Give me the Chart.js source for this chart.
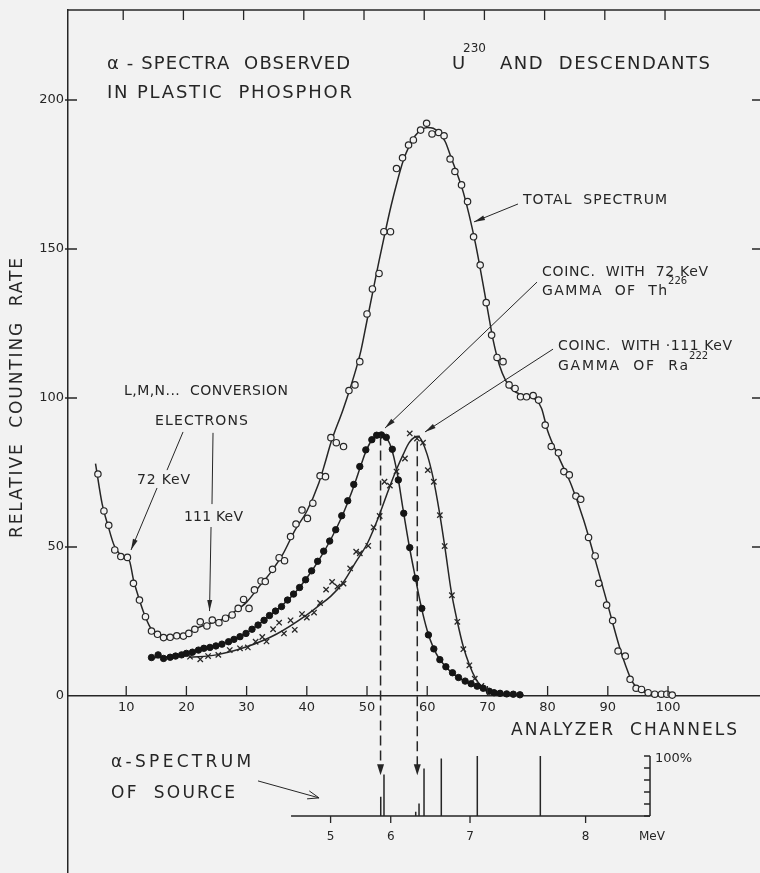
<!DOCTYPE html>
<html>
<head>
<meta charset="utf-8">
<script src="https://cdn.jsdelivr.net/npm/chart.js@4.4.0/dist/chart.umd.min.js"></script>
<style>
html, body { margin: 0; padding: 0; background: #f2f2f2; }
</style>
</head>
<body>
<canvas id="canvas" width="760" height="873"></canvas>
<script>
'use strict';

// total spectrum, open circles (channel, relative counting rate)
var totalCh = [5.3, 6.3, 7.1, 8.1, 9.1, 10.2, 11.2, 12.2, 13.2, 14.2, 15.2, 16.2, 17.3, 18.4, 19.5, 20.4, 21.4, 22.3, 23.4, 24.3,
	25.4, 26.5, 27.6, 28.6, 29.5, 30.4, 31.3, 32.4, 33.1, 34.3, 35.4, 36.3, 37.3, 38.2, 39.2, 40.1, 41, 42.2, 43.1, 44,
	44.9, 46.1, 47, 48, 48.8, 50, 50.9, 52, 52.8, 53.9, 54.9, 55.9, 56.9, 57.7, 58.9, 59.9, 60.8, 61.9, 62.8, 63.8,
	64.6, 65.7, 66.7, 67.7, 68.8, 69.8, 70.7, 71.6, 72.6, 73.6, 74.6, 75.5, 76.5, 77.6, 78.5, 79.6, 80.6, 81.8, 82.7, 83.6,
	84.7, 85.5, 86.8, 87.9, 88.5, 89.8, 90.8, 91.7, 92.9, 93.7, 94.7, 95.6, 96.7, 97.8, 98.9, 99.8, 100.7];
var totalRate = [74.5, 62.1, 57.3, 49, 46.8, 46.5, 37.8, 32.2, 26.6, 21.8, 20.7, 19.6, 19.7, 20.2, 20.1, 21, 22.4, 24.9, 23.5, 25.5,
	24.6, 26.1, 27.2, 29.4, 32.4, 29.4, 35.6, 38.6, 38.4, 42.5, 46.4, 45.4, 53.5, 57.7, 62.4, 59.6, 64.7, 73.9, 73.6, 86.7,
	85, 83.7, 102.5, 104.4, 112.2, 128.2, 136.6, 141.8, 155.8, 155.8, 177, 180.6, 184.9, 186.6, 189.9, 192.2, 188.6, 189.1, 188, 180.2,
	176, 171.5, 165.9, 154.1, 144.6, 132, 121.1, 113.6, 112.2, 104.4, 103.2, 100.4, 100.4, 100.8, 99.3, 90.9, 83.7, 81.6, 75.3, 74.2,
	67.1, 66, 53.2, 47, 37.8, 30.5, 25.3, 15.1, 13.4, 5.6, 2.6, 2.2, 1.1, 0.6, 0.6, 0.6, 0.3];

// drawn curve through the total spectrum
var totalCurveCh = [4.9, 6, 7, 8, 9, 10, 10.6, 11.2, 12, 13, 14, 15, 16, 17, 18, 19, 20, 22, 24, 26, 28, 30, 32, 34, 36, 38, 40,
	42, 43, 44, 46, 47, 48, 49, 50, 51, 52, 53, 54, 55, 56, 57, 58, 59, 60, 61, 62, 63, 64, 66, 68, 70, 71, 72, 73, 74, 76,
	78, 79, 80, 82, 84, 86, 88, 90, 92, 93, 94, 95, 96, 98, 101];
var totalCurveRate = [78, 64.5, 57, 50.5, 47.5, 46.5, 45, 39, 33.5, 27.5, 23, 21, 20.2, 19.8, 20, 20.4, 21, 23, 24.3, 25.8, 28.3, 31.5, 36.5, 41.5, 47.5, 55.5, 62,
	71.5, 78, 85, 96, 102, 108.5, 116, 126, 136, 146, 155.5, 164.5, 172.5, 179.5, 184.5, 188, 190, 190.8, 190.5, 189, 186, 180.5, 169, 152, 130, 119, 111, 106, 103, 100.8,
	99.5, 96.5, 89, 79.5, 70.5, 59, 45, 30.5, 16, 10, 5, 2.6, 1.3, 0.5, 0.2];

// coincidence with 72 keV gamma of Th226, filled circles
var thCh = [14.2, 15.3, 16.2, 17.3, 18.2, 19.2, 20, 21, 22, 22.9, 23.9, 24.9, 25.9, 27, 27.9, 28.9, 29.9, 30.9, 31.9, 32.9,
	33.8, 34.8, 35.8, 36.8, 37.8, 38.8, 39.8, 40.8, 41.8, 42.8, 43.8, 44.8, 45.8, 46.8, 47.8, 48.8, 49.8, 50.8, 51.6, 52.4,
	53.2, 54.2, 55.2, 56.1, 57.1, 58.1, 59.1, 60.2, 61.1, 62.1, 63.1, 64.2, 65.2, 66.3, 67.3, 68.3, 69.3, 70.3, 71.1, 72.1,
	73.2, 74.3, 75.4];
var thRate = [12.9, 13.8, 12.6, 13, 13.4, 13.8, 14.3, 14.7, 15.4, 16, 16.3, 16.8, 17.4, 18.2, 19, 19.9, 21, 22.4, 23.8, 25.4,
	27, 28.5, 30, 32.2, 34.2, 36.4, 39, 42, 45.2, 48.6, 52, 55.8, 60.5, 65.5, 71, 77, 82.6, 86, 87.5, 87.6,
	86.8, 82.8, 72.5, 61.3, 49.8, 39.5, 29.4, 20.5, 15.8, 12.2, 9.8, 7.8, 6.2, 5, 4.1, 3.3, 2.6, 1.6, 1.1, 0.9,
	0.7, 0.6, 0.4];
var thCurveCh = [14, 16, 18, 20, 22, 24, 26, 28, 30, 32, 34, 36, 38, 40, 42, 44, 46, 47, 48, 49, 50, 51, 52, 53, 54, 55, 56,
	57, 58, 59, 60, 61, 62, 63, 64, 65, 66, 68, 70, 71, 72, 74, 76];
var thCurveRate = [12.7, 13, 13.4, 14.2, 15.3, 16.4, 17.5, 19.1, 21.2, 24, 27.2, 30.6, 34.6, 39.6, 45.6, 52.6, 61, 66, 71.5, 77.5, 83, 86.3, 87.6, 87, 83.5, 75, 62.5,
	50.5, 40, 30, 22, 16.3, 12.5, 10, 8, 6.4, 5.2, 3.4, 1.8, 1.1, 0.8, 0.5, 0.3];

// coincidence with 111 keV gamma of Ra222, crosses
var raCh = [20.6, 22.3, 23.6, 25.3, 27.2, 28.9, 30.2, 31.5, 32.6, 33.3, 34.4, 35.4, 36.2, 37.3, 38, 39.2, 40, 41.2, 42.2, 43.2,
	44.2, 45.1, 46.1, 47.2, 48.2, 48.8, 50.2, 51.1, 52.1, 52.9, 53.8, 54.9, 56.3, 57.1, 58.3, 59.3, 60.1, 61.1, 62.1, 62.9,
	64.1, 65, 66, 67, 67.9, 69];
var raRate = [13.2, 12.3, 13.4, 13.8, 15.4, 16, 16.3, 18.2, 19.8, 18.3, 22.4, 24.6, 21, 25.4, 22.2, 27.5, 26.3, 28, 31.2, 35.7,
	38.3, 36.7, 37.7, 42.8, 48.4, 47.9, 50.4, 56.6, 60.4, 71.9, 70.6, 75.3, 79.7, 88.1, 86.4, 85, 75.8, 71.9, 60.7, 50.3,
	33.8, 24.9, 15.7, 10.3, 5.8, 3.4];
var raCurveCh = [20.5, 25, 30, 35, 40, 42, 44, 46, 48, 50, 51, 52, 53, 54, 55, 56, 57, 58, 58.5, 59, 60, 61, 62, 63, 64, 65,
	66, 67, 68, 69, 70, 71, 72];
var raCurveRate = [13, 13.8, 16.5, 20.8, 27.2, 30.3, 33.5, 38, 44.5, 51, 55.5, 60.5, 66, 71.5, 76.5, 81, 85, 87, 87.2, 86, 81, 73, 62, 49, 35, 25,
	16.5, 10.5, 6, 3.2, 1.5, 0.6, 0.2];

// alpha spectrum of the source (inset), line positions in channel units, heights in %
var lineCh = [52.28, 52.82, 58.09, 58.64, 59.47, 62.34, 68.32, 78.79];
var linePct = [32, 69, 7, 21, 79, 96, 100, 100];
var mevLabels = ['5', '6', '7', '8'];
var mevCh = [43.95, 53.94, 67.11, 86.31];
var pctTicks = [0, 20, 40, 60, 80, 100];

var xTicks = [10, 20, 30, 40, 50, 60, 70, 80, 90, 100];
var yTicks = [0, 50, 100, 150, 200];

var ink = '#262626';
var bg = '#f2f2f2';
var fam = '"DejaVu Sans", sans-serif';
var weight = 'normal';

function pairs(xs, ys) {
	var out = [];
	for (var i = 0; i < xs.length; i++) out.push({x: xs[i], y: ys[i]});
	return out;
}

function sourceLines() {
	var out = [];
	for (var i = 0; i < lineCh.length; i++) {
		out.push({x: lineCh[i], y: 0}, {x: lineCh[i], y: linePct[i]}, {x: lineCh[i], y: null});
	}
	return out;
}

// text: string, channel, rate, size, width (0 = natural)
var notes = [
	['α - SPECTRA  OBSERVED', 6.81, 212.1, 18, 243],
	['IN PLASTIC  PHOSPHOR', 6.81, 202.3, 18, 245],
	['U', 64.12, 212.1, 18, 0],
	['230', 65.95, 217.1, 12, 0],
	['AND  DESCENDANTS', 72.09, 212.1, 18, 210],
	['TOTAL  SPECTRUM', 75.91, 166.4, 14, 144],
	['COINC.  WITH  72 KeV', 79.07, 142.3, 14, 166],
	['GAMMA  OF  Th', 79.07, 135.9, 14, 125],
	['226', 100.0, 139.2, 10, 0],
	['COINC.  WITH ·111 KeV', 81.73, 117.4, 14, 174],
	['GAMMA  OF  Ra', 81.73, 110.7, 14, 130],
	['222', 103.5, 114.0, 10, 0],
	['L,M,N...  CONVERSION', 9.63, 102.3, 14, 164],
	['ELECTRONS', 14.78, 92.3, 14, 93],
	['72 KeV', 11.79, 72.5, 14, 53],
	['111 KeV', 19.6, 60.1, 14, 59],
	['ANALYZER  CHANNELS', 73.92, -11.7, 17, 226],
	['α-SPECTRUM', 7.48, -22.5, 17, 140],
	['OF  SOURCE', 7.48, -32.6, 17, 124]
];

// arrows: from (ch, rate) to (ch, rate), head at end if last flag
var arrows = [
	[75.08, 165.1, 67.77, 159.1, 1],
	[78.24, 138.9, 52.99, 89.9, 1],
	[80.9, 116.4, 59.63, 88.6, 1],
	[19.44, 88.6, 16.78, 75.8, 0],
	[15.12, 69.8, 10.8, 49.0, 1],
	[24.42, 88.3, 24.25, 64.4, 0],
	[24.09, 56.7, 23.84, 28.5, 1]
];

// dashed drop lines from the coincidence peaks to the source lines
var drops = [[52.25, 87.4], [58.35, 85.5]];
var dropEndPct = 68;

function drawText(ctx, str, x, y, size, width) {
	ctx.font = weight + ' ' + size + 'px ' + fam;
	ctx.letterSpacing = '0px';
	var sp = 0;
	if (width) {
		var w = ctx.measureText(str).width;
		sp = (width - w) / Math.max(str.length - 1, 1);
	}
	ctx.letterSpacing = sp + 'px';
	ctx.textAlign = 'left';
	ctx.textBaseline = 'middle';
	ctx.fillText(str, x, y);
	ctx.letterSpacing = '0px';
}

function arrowHead(ctx, x1, y1, x2, y2, len, half) {
	var a = Math.atan2(y2 - y1, x2 - x1);
	ctx.beginPath();
	ctx.moveTo(x2, y2);
	ctx.lineTo(x2 - len * Math.cos(a) + half * Math.sin(a), y2 - len * Math.sin(a) - half * Math.cos(a));
	ctx.lineTo(x2 - len * Math.cos(a) - half * Math.sin(a), y2 - len * Math.sin(a) + half * Math.cos(a));
	ctx.closePath();
	ctx.fill();
}

var decor = {
	id: 'decor',
	beforeDraw: function(chart) {
		var ctx = chart.ctx;
		ctx.save();
		ctx.fillStyle = bg;
		ctx.fillRect(0, 0, chart.width, chart.height);
		ctx.restore();
	},
	afterDraw: function(chart) {
		var ctx = chart.ctx;
		var sx = chart.scales.x, sy = chart.scales.y, s2 = chart.scales.y2;
		var area = chart.chartArea;
		var y0 = sy.getPixelForValue(0);
		ctx.save();
		ctx.strokeStyle = ink;
		ctx.fillStyle = ink;

		// frame top and ticks on all sides
		ctx.lineWidth = 1.5;
		ctx.beginPath();
		ctx.moveTo(area.left, area.top);
		ctx.lineTo(area.right, area.top);
		ctx.stroke();
		ctx.lineWidth = 1.3;
		ctx.beginPath();
		xTicks.forEach(function(v) {
			var x = sx.getPixelForValue(v);
			ctx.moveTo(x - 3, area.top);
			ctx.lineTo(x - 3, area.top + 10);
			ctx.moveTo(x, y0);
			ctx.lineTo(x, y0 - 10);
		});
		yTicks.forEach(function(v) {
			if (v === 0) return;
			var y = sy.getPixelForValue(v);
			ctx.moveTo(area.left - 3, y);
			ctx.lineTo(area.left + 9, y);
			ctx.moveTo(area.right, y);
			ctx.lineTo(area.right - 8, y);
		});
		ctx.stroke();

		// inset energy axis
		var base = s2.getPixelForValue(0);
		ctx.beginPath();
		mevCh.forEach(function(c) {
			var x = sx.getPixelForValue(c);
			ctx.moveTo(x, base);
			ctx.lineTo(x, base + 7);
		});
		var xr = sx.getPixelForValue(97.01);
		pctTicks.forEach(function(p) {
			var y = s2.getPixelForValue(p);
			ctx.moveTo(xr, y);
			ctx.lineTo(xr - 6, y);
		});
		ctx.stroke();
		ctx.font = weight + ' 12px ' + fam;
		ctx.textAlign = 'center';
		ctx.textBaseline = 'middle';
		mevLabels.forEach(function(t, i) {
			ctx.fillText(t, sx.getPixelForValue(mevCh[i]), s2.getPixelForValue(-35));
		});
		drawText(ctx, 'MeV', sx.getPixelForValue(95.18), s2.getPixelForValue(-35), 12, 0);
		drawText(ctx, '100%', sx.getPixelForValue(97.84), s2.getPixelForValue(95.8), 13, 0);

		// dashed drop lines with arrow heads
		ctx.lineWidth = 1.5;
		ctx.setLineDash([10, 5]);
		drops.forEach(function(d) {
			var x = sx.getPixelForValue(d[0]);
			ctx.beginPath();
			ctx.moveTo(x, sy.getPixelForValue(d[1]));
			ctx.lineTo(x, s2.getPixelForValue(dropEndPct) - 8);
			ctx.stroke();
		});
		ctx.setLineDash([]);
		drops.forEach(function(d) {
			var x = sx.getPixelForValue(d[0]);
			var yEnd = s2.getPixelForValue(dropEndPct);
			arrowHead(ctx, x, yEnd - 20, x, yEnd, 11, 3.5);
		});

		// annotation arrows
		ctx.lineWidth = 1;
		arrows.forEach(function(a) {
			var x1 = sx.getPixelForValue(a[0]), y1 = sy.getPixelForValue(a[1]);
			var x2 = sx.getPixelForValue(a[2]), y2 = sy.getPixelForValue(a[3]);
			ctx.beginPath();
			ctx.moveTo(x1, y1);
			ctx.lineTo(x2, y2);
			ctx.stroke();
			if (a[4]) arrowHead(ctx, x1, y1, x2, y2, 11, 2.5);
		});

		// source arrow, open head
		var ax1 = sx.getPixelForValue(31.89), ay1 = sy.getPixelForValue(-28.5);
		var ax2 = sx.getPixelForValue(42.03), ay2 = sy.getPixelForValue(-34.2);
		ctx.beginPath();
		ctx.moveTo(ax1, ay1);
		ctx.lineTo(ax2, ay2);
		var ang = Math.atan2(ay2 - ay1, ax2 - ax1);
		ctx.moveTo(ax2 - 12 * Math.cos(ang - 0.35), ay2 - 12 * Math.sin(ang - 0.35));
		ctx.lineTo(ax2, ay2);
		ctx.lineTo(ax2 - 12 * Math.cos(ang + 0.35), ay2 - 12 * Math.sin(ang + 0.35));
		ctx.stroke();

		// texts
		notes.forEach(function(n) {
			drawText(ctx, n[0], sx.getPixelForValue(n[1]), sy.getPixelForValue(n[2]), n[3], n[4]);
		});

		// rotated y title
		ctx.save();
		ctx.translate(17.5, sy.getPixelForValue(100));
		ctx.rotate(-Math.PI / 2);
		drawText(ctx, 'RELATIVE  COUNTING  RATE', -140, 0, 17, 280);
		ctx.restore();

		ctx.restore();
	}
};

var curveStyle = {showLine: true, pointRadius: 0, borderColor: ink, borderWidth: 1.5, cubicInterpolationMode: 'monotone', order: 2};

var config = {
	type: 'scatter',
	data: {
		datasets: [
			Object.assign({label: 'Total spectrum curve', data: pairs(totalCurveCh, totalCurveRate)}, curveStyle),
			{label: 'Total spectrum', data: pairs(totalCh, totalRate), pointStyle: 'circle', pointRadius: 3.2,
				backgroundColor: bg, borderColor: ink, borderWidth: 1.2, order: 0},
			Object.assign({label: 'Th226 curve', data: pairs(thCurveCh, thCurveRate)}, curveStyle),
			{label: 'Coinc. 72 KeV', data: pairs(thCh, thRate), pointStyle: 'circle', pointRadius: 3.2,
				backgroundColor: '#151515', borderColor: '#151515', borderWidth: 1, order: 0},
			Object.assign({label: 'Ra222 curve', data: pairs(raCurveCh, raCurveRate)}, curveStyle),
			{label: 'Coinc. 111 KeV', data: pairs(raCh, raRate), pointStyle: 'crossRot', pointRadius: 3.8,
				borderColor: ink, borderWidth: 1.3, order: 0},
			{label: 'Source lines', data: sourceLines(), yAxisID: 'y2', showLine: true, spanGaps: false,
				pointRadius: 0, borderColor: ink, borderWidth: 1.5, order: 1},
			{label: 'Source axis', data: [{x: 37.38, y: 0}, {x: 97.01, y: 0}, {x: 97.01, y: null}, {x: 97.01, y: 0}, {x: 97.01, y: 100}],
				yAxisID: 'y2', showLine: true, spanGaps: false, pointRadius: 0, borderColor: ink, borderWidth: 1.5, order: 1}
		]
	},
	options: {
		responsive: false,
		animation: false,
		devicePixelRatio: 1,
		layout: {autoPadding: false, padding: {top: 10, right: 0, bottom: 0, left: 0}},
		plugins: {legend: {display: false}, tooltip: {enabled: false}},
		scales: {
			x: {
				type: 'linear', min: 0.33, max: 115.28, position: {y: 0},
				grid: {display: false, drawTicks: false},
				border: {display: true, color: ink, width: 1.5},
				afterBuildTicks: function(scale) { scale.ticks = xTicks.map(function(v) { return {value: v}; }); },
				afterFit: function(scale) { scale.paddingLeft = 0; scale.paddingRight = 0; },
				ticks: {padding: 4, color: ink, font: {family: fam, size: 13, weight: weight}}
			},
			y: {
				type: 'linear', min: -59.4, max: 230.2, position: 'left',
				grid: {display: false, drawTicks: false},
				border: {display: true, color: ink, width: 1.5},
				afterBuildTicks: function(scale) { scale.ticks = yTicks.map(function(v) { return {value: v}; }); },
				afterFit: function(scale) { scale.width = 68; scale.paddingTop = 0; scale.paddingBottom = 0; },
				ticks: {padding: 4, color: ink, font: {family: fam, size: 13, weight: weight}}
			},
			y2: {type: 'linear', min: -95, max: 1343.3, display: false}
		}
	},
	plugins: [decor]
};

var ctx = document.getElementById('canvas').getContext('2d');
window.mychart = new Chart(ctx, config);
</script>
</body>
</html>
